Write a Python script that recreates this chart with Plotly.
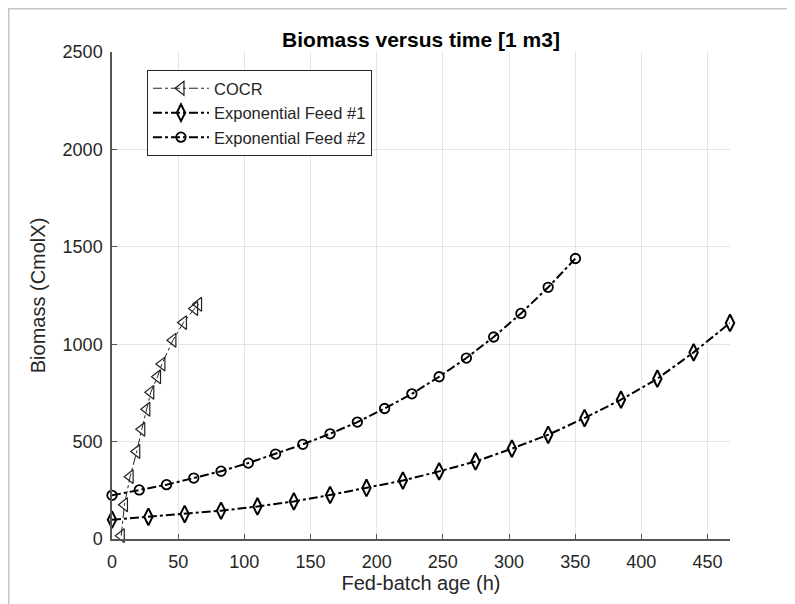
import plotly.graph_objects as go

# COCR run
cocr_t = [7.0, 9.4, 13.7, 18.7, 22.5, 26.3, 29.3, 34.4, 37.7, 46.0, 54.0, 62.4, 65.4]
cocr_x = [17, 176, 320, 449, 563, 666, 753, 833, 898, 1020, 1111, 1183, 1205]

# Exponential feed #1
exp1_t = [0, 27.5, 54.9, 82.4, 109.9, 137.4, 164.8, 192.3, 219.8, 247.2, 274.7, 302.2,
          329.6, 357.1, 384.6, 412.1, 439.5, 467]
exp1_x = [99, 114, 128, 145, 167, 193, 226, 262, 300, 347, 398, 464, 535, 621, 715, 823, 958, 1109]

# Exponential feed #2
exp2_t = [0, 20.6, 41.2, 61.8, 82.4, 103, 123.6, 144.2, 164.8, 185.4, 206, 226.6, 247.2,
          267.8, 288.4, 309, 329.6, 350.2]
exp2_x = [224, 252, 279, 313, 348, 390, 436, 486, 540, 600, 670, 745, 833, 929, 1037, 1158, 1292, 1440]

font = "Liberation Sans, Arial, sans-serif"

# the page body adds an 8px margin, so the figure is drawn 8px smaller
W, H = 787, 596
L, R, T, B = 104, 65, 44, 65

fig = go.Figure()
fig.add_trace(go.Scatter(x=cocr_t, y=cocr_x, name="COCR", mode="lines+markers", cliponaxis=False,
                         line=dict(color="#222222", width=1, dash="dashdot"),
                         marker=dict(symbol="triangle-left-open", size=12, color="#222222",
                                     line=dict(width=1.2))))
fig.add_trace(go.Scatter(x=exp1_t, y=exp1_x, name="Exponential Feed #1", mode="lines+markers",
                         cliponaxis=False,
                         line=dict(color="black", width=2, dash="dashdot"),
                         marker=dict(symbol="diamond-tall-open", size=12, color="black",
                                     line=dict(width=2))))
fig.add_trace(go.Scatter(x=exp2_t, y=exp2_x, name="Exponential Feed #2", mode="lines+markers",
                         cliponaxis=False,
                         line=dict(color="black", width=2, dash="dashdot"),
                         marker=dict(symbol="circle-open", size=9.5, color="black",
                                     line=dict(width=1.8))))

pw, ph = W - L - R, H - T - B
fig.update_layout(
    width=W, height=H,
    margin=dict(l=L, r=R, t=T, b=B),
    paper_bgcolor="white", plot_bgcolor="white",
    font=dict(family=font, color="#262626"),
    title=dict(text="<b>Biomass versus time [1 m3]</b>", x=(L + pw / 2) / W, xanchor="center",
               y=1 - 32 / H, yanchor="middle", font=dict(size=21, color="black")),
    legend=dict(x=0.0566, y=0.963, xanchor="left", yanchor="top", bgcolor="white",
                bordercolor="#262626", borderwidth=1, font=dict(size=16.5, color="#262626"),
                itemwidth=56, tracegroupgap=0),
    shapes=[
        dict(type="line", xref="paper", yref="paper", x0=-L / pw, x1=1 + R / pw,
             y0=1 + (T - 0.5) / ph, y1=1 + (T - 0.5) / ph, line=dict(color="#c4c4c4", width=2)),
        dict(type="line", xref="paper", yref="paper", x0=-(L - 0.5) / pw, x1=-(L - 0.5) / pw,
             y0=-B / ph, y1=1 + T / ph, line=dict(color="#c4c4c4", width=2)),
    ],
)

fig.update_xaxes(range=[0, 467], dtick=50, tick0=0, showgrid=True, gridcolor="#e4e4e4",
                 showline=True, linecolor="#555555", linewidth=1.5, ticks="inside", ticklen=5,
                 tickcolor="#555555", tickfont=dict(size=18), zeroline=False,
                 ticklabelstandoff=6,
                 title=dict(text="Fed-batch age (h)", font=dict(size=20), standoff=1))
fig.update_yaxes(range=[0, 2500], dtick=500, tick0=0, showgrid=True, gridcolor="#e4e4e4",
                 showline=True, linecolor="#555555", linewidth=1.5, ticks="inside", ticklen=5,
                 tickcolor="#555555", tickfont=dict(size=18), zeroline=False,
                 ticklabelstandoff=4,
                 title=dict(text="Biomass (CmolX)", font=dict(size=20), standoff=12))

fig.write_html("out.html")
